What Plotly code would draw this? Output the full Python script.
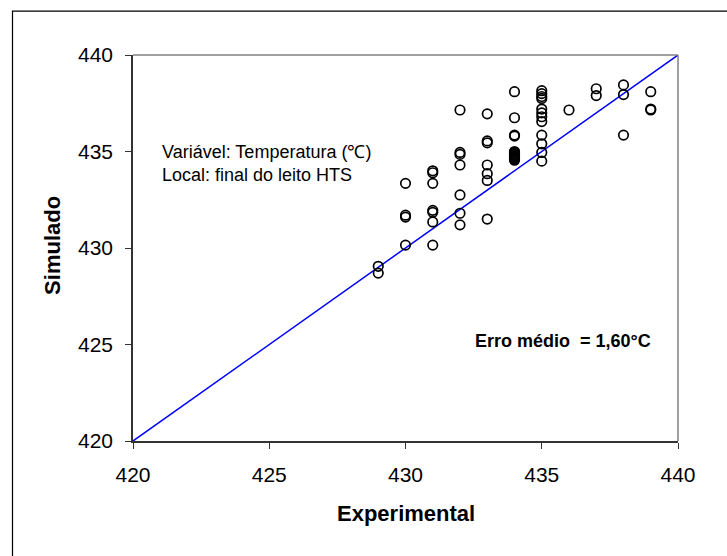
import plotly.graph_objects as go

# Experimental vs simulated temperature (°C) at the end of the HTS bed
experimental = (
    [429] * 2
    + [430] * 4
    + [431] * 7
    + [432] * 7
    + [433] * 7
    + [434] * 14
    + [435] * 12
    + [436] * 1
    + [437] * 2
    + [438] * 3
    + [439] * 3
)
simulado = [
    429.05, 428.7,
    433.35, 431.7, 431.6, 430.15,
    434.0, 433.9, 433.35, 431.95, 431.85, 431.35, 430.15,
    437.15, 434.95, 434.85, 434.3, 432.75, 431.8, 431.2,
    436.95, 435.55, 435.45, 434.3, 433.85, 433.5, 431.5,
    438.1, 436.75, 435.85, 435.8,
    435.0, 434.95, 434.9, 434.85, 434.8, 434.75, 434.7, 434.65, 434.6, 434.55,
    438.15, 438.0, 437.85, 437.75, 437.2, 437.0, 436.8, 436.55, 435.85, 435.4, 434.95, 434.5,
    437.15,
    438.25, 437.9,
    438.45, 437.95, 435.85,
    438.1, 437.2, 437.15,
]
diagonal = [420, 440]
tick_values = [420, 425, 430, 435, 440]

FONT = "Liberation Sans, Arial, sans-serif"

fig = go.Figure()

# y = x reference line
fig.add_trace(go.Scatter(
    x=diagonal, y=diagonal, mode="lines",
    line=dict(color="#0000ff", width=1.5),
    hoverinfo="skip", showlegend=False, cliponaxis=False,
))

fig.add_trace(go.Scatter(
    x=experimental, y=simulado, mode="markers",
    marker=dict(symbol="circle-open", size=9.5, color="black",
                line=dict(color="black", width=1.7)),
    showlegend=False, cliponaxis=False,
))

axis_common = dict(
    range=[420, 440], tickvals=tick_values, ticks="outside", ticklen=6,
    tickcolor="#333333", tickwidth=1, showgrid=False, zeroline=False,
    showline=True, linecolor="#333333", linewidth=1.5,
    tickfont=dict(family=FONT, size=21, color="black"),
)

fig.update_layout(
    width=727, height=556,
    margin=dict(l=133, r=48.5, t=55, b=114.5),
    paper_bgcolor="white", plot_bgcolor="white",
    xaxis=dict(**axis_common, ticklabelstandoff=8),
    yaxis=dict(**axis_common, ticklabelstandoff=8),
    font=dict(family=FONT, color="black"),
    shapes=[
        # plot-area top and right edges
        dict(type="line", xref="paper", yref="paper", x0=0, x1=1, y0=1, y1=1,
             line=dict(color="#808080", width=1.5)),
        dict(type="line", xref="paper", yref="paper", x0=1, x1=1, y0=0, y1=1,
             line=dict(color="#808080", width=1.5)),
        # chart frame
        dict(type="rect", xref="paper", yref="paper",
             x0=-0.2211, x1=1.2, y0=-0.4, y1=1.1138,
             line=dict(color="black", width=1.2), fillcolor="rgba(0,0,0,0)",
             layer="below"),
    ],
    annotations=[
        dict(text="<b>Experimental</b>", xref="paper", yref="paper",
             x=0.501, y=-0.1876, xanchor="center", yanchor="middle",
             showarrow=False, font=dict(size=22, family=FONT)),
        dict(text="<b>Simulado</b>", xref="paper", yref="paper",
             x=-0.1468, y=0.508, xanchor="center", yanchor="middle",
             textangle=-90, showarrow=False, font=dict(size=22, family=FONT)),
        dict(text="Variável: Temperatura (℃)", x=420.99, y=434.98,
             xanchor="left", yanchor="middle", showarrow=False,
             font=dict(size=18, family=FONT)),
        dict(text="Local: final do leito HTS", x=420.99, y=433.79,
             xanchor="left", yanchor="middle", showarrow=False,
             font=dict(size=18, family=FONT)),
        dict(text="<b>Erro médio \u00a0= 1,60°C</b>", x=435.78, y=425.2,
             xanchor="center", yanchor="middle", showarrow=False,
             font=dict(size=18, family=FONT)),
    ],
)

fig.write_html("out.html")
